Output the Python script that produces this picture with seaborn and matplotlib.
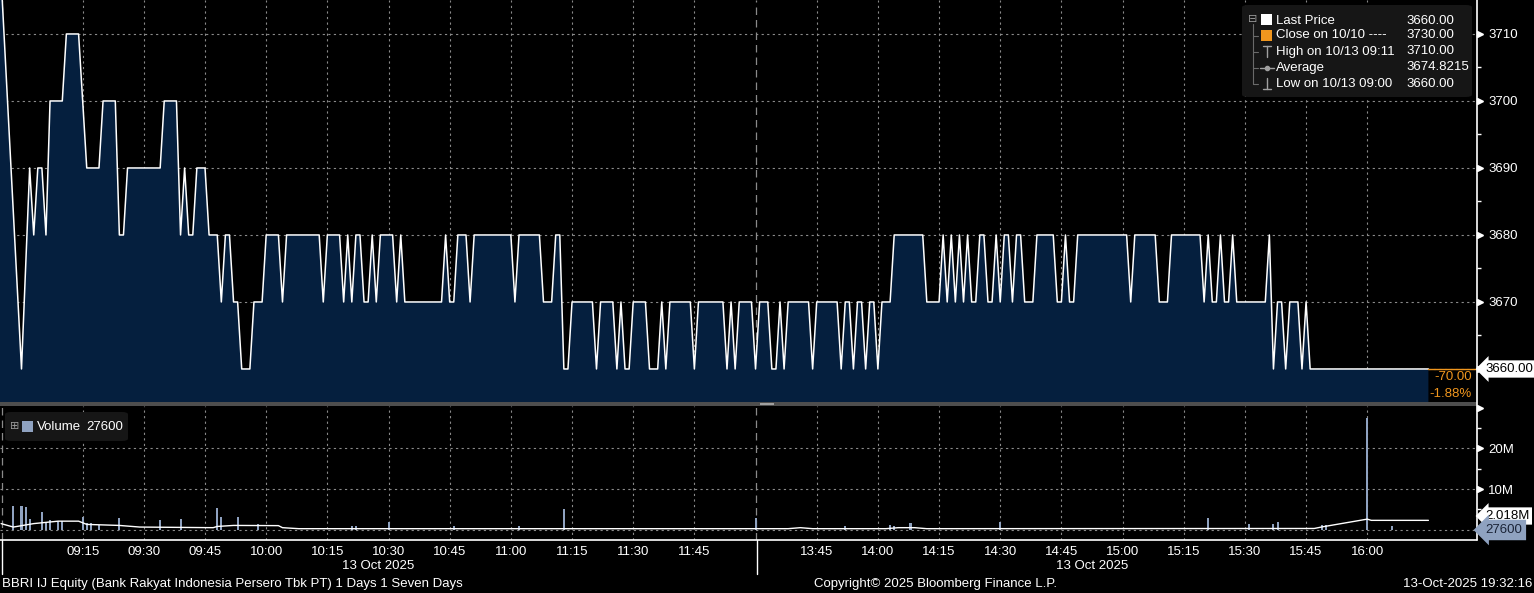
import matplotlib as mpl
import matplotlib.pyplot as plt
import matplotlib.patches as mpatches
import matplotlib.transforms as mtransforms
from matplotlib.lines import Line2D
import pandas as pd
import seaborn as sns

W, H = 1534, 593

# ---- data (BBRI IJ, 13 Oct 2025) ----
PRICE_TIMES = """
08:54 09:00 09:02 09:03 09:04 09:05 09:06 09:07 09:10 09:11 09:14 09:16 09:19 09:20 09:23 09:24 09:25 09:26 09:34
09:35 09:38 09:39 09:40 09:41 09:42 09:43 09:45 09:46 09:48 09:49 09:50 09:51 09:52 09:53 09:54 09:56 09:57 09:59
10:00 10:03 10:04 10:05 10:13 10:14 10:15 10:18 10:19 10:20 10:21 10:22 10:23 10:24 10:25 10:26 10:27 10:28
10:31 10:32 10:33 10:34 10:43 10:44 10:45 10:46 10:47 10:49 10:50 10:51
11:00 11:01 11:02 11:07 11:08 11:10 11:11 11:12 11:13 11:14 11:15 11:20 11:21 11:22 11:25 11:26 11:27 11:28
11:29 11:30 11:33 11:34 11:36 11:37 11:38 11:39 11:44 11:45 11:46 11:52 11:53 11:54 11:55 11:56 11:59
13:30 13:31 13:33 13:34 13:35 13:36 13:37 13:38 13:43 13:44 13:45 13:50 13:51 13:52 13:53 13:54 13:55 13:56
13:57 13:58 13:59
14:00 14:01 14:03 14:04 14:11 14:12 14:15 14:16 14:17 14:18 14:19 14:20 14:21 14:22 14:23 14:24 14:25 14:26
14:27 14:28 14:29 14:30 14:31 14:32 14:33 14:34 14:35 14:36 14:38 14:39 14:43 14:44 14:45 14:46 14:47 14:48 14:49
15:01 15:02 15:03 15:08 15:09 15:11 15:12 15:19 15:20 15:21 15:22 15:23 15:24 15:25 15:26 15:27 15:28 15:35
15:36 15:37 15:38 15:39 15:40 15:41 15:43 15:44 15:45 15:46 16:15
""".split()

PRICE_VALUES = [
    3730, 3660, 3690, 3680, 3690, 3690, 3680, 3700, 3700, 3710, 3710, 3690, 3690, 3700, 3700, 3680, 3680, 3690, 3690,
    3700, 3700, 3680, 3690, 3680, 3680, 3690, 3690, 3680, 3680, 3670, 3680, 3680, 3670, 3670, 3660, 3660, 3670, 3670,
    3680, 3680, 3670, 3680, 3680, 3670, 3680, 3680, 3670, 3680, 3670, 3680, 3680, 3670, 3670, 3680, 3670, 3680,
    3680, 3670, 3680, 3670, 3670, 3680, 3670, 3670, 3680, 3680, 3670, 3680,
    3680, 3670, 3680, 3680, 3670, 3670, 3680, 3680, 3660, 3660, 3670, 3670, 3660, 3670, 3670, 3660, 3670, 3660,
    3660, 3670, 3670, 3660, 3660, 3670, 3660, 3670, 3670, 3660, 3670, 3670, 3660, 3670, 3660, 3670, 3670,
    3660, 3670, 3670, 3660, 3660, 3670, 3660, 3670, 3670, 3660, 3670, 3670, 3660, 3670, 3670, 3660, 3670, 3670,
    3660, 3670, 3670,
    3660, 3670, 3670, 3680, 3680, 3670, 3670, 3680, 3670, 3680, 3670, 3680, 3670, 3680, 3670, 3670, 3680, 3680,
    3670, 3670, 3680, 3670, 3680, 3680, 3670, 3680, 3680, 3670, 3670, 3680, 3680, 3670, 3670, 3680, 3670, 3670, 3680,
    3680, 3670, 3680, 3680, 3670, 3670, 3680, 3680, 3670, 3680, 3670, 3670, 3680, 3670, 3670, 3680, 3670, 3670,
    3680, 3660, 3670, 3670, 3660, 3670, 3670, 3660, 3670, 3660, 3660,
]

VOLUME_TIMES = ["08:58", "09:00", "09:01", "09:02", "09:05", "09:06", "09:07", "09:09", "09:10", "09:15",
                "09:16", "09:17", "09:19", "09:24", "09:34", "09:39", "09:48", "09:49", "09:53", "09:58",
                "10:21", "10:22", "10:30", "10:46", "11:02", "11:13", "13:30", "13:52", "14:03", "14:04",
                "14:08", "14:30", "15:21", "15:31", "15:37", "15:38", "15:49", "15:50", "16:00", "16:06"]
VOLUME_M = [5.8, 5.8, 5.5, 2.6, 4.3, 1.7, 2.4, 2.2, 2.2, 3.2,
            1.6, 1.6, 1.1, 2.9, 2.4, 2.6, 5.4, 3.2, 3.2, 1.4,
            1.0, 1.0, 1.9, 1.0, 1.0, 5.0, 2.9, 0.8, 1.1, 0.8,
            1.6, 1.8, 2.8, 1.4, 1.5, 2.0, 1.2, 1.2, 27.4, 1.0]

VOL_AVG_TIMES = ["08:55", "08:58", "09:03", "09:09", "09:14", "09:16", "09:24", "09:29", "09:47", "09:48",
                 "09:52", "10:03", "10:04", "10:08", "13:38", "13:41", "13:44", "14:02", "14:05", "14:09",
                 "14:12", "15:47", "15:49", "16:00", "16:01", "16:15"]
VOL_AVG_M = [1.5, 0.65, 1.5, 2.1, 2.1, 1.3, 1.05, 0.65, 0.5, 0.8,
             1.05, 1.0, 0.5, 0.25, 0.25, 0.5, 0.25, 0.25, 0.5, 0.5,
             0.25, 0.3, 0.7, 2.6, 2.3, 2.3]

TICK_TIMES = ["09:15", "09:30", "09:45", "10:00", "10:15", "10:30", "10:45", "11:00", "11:15", "11:30",
              "11:45", "13:45", "14:00", "14:15", "14:30", "14:45", "15:00", "15:15", "15:30", "15:45", "16:00"]
PRICE_TICKS = [3660, 3670, 3680, 3690, 3700, 3710]
PRICE_TICK_LABELS = ["", "3670", "3680", "3690", "3700", "3710"]  # 3660 sits under the last-price flag
VOLUME_TICKS = [10, 20, 30]
VOLUME_TICK_LABELS = ["10M", "20M", ""]

LEGEND_LABELS = ["Last Price", "Close on 10/10 ----", "High on 10/13 09:11", "Average", "Low on 10/13 09:00"]
LEGEND_VALUES = ["3660.00", "3730.00", "3710.00", "3674.8215", "3660.00"]
LAST_VOLUME = "27600"
VOL_AVG_LABEL = "2.018M"
CHANGE_TEXT = ["-70.00", "-1.88%"]

NAVY = "#051f3e"
ORANGE = "#f0961e"
VOL_BLUE = "#8fa2c0"
GRID = "#8a8a8a"
FONT = ["Liberation Sans Narrow", "Liberation Sans", "DejaVu Sans"]
FS = 9.5

PX_PER_MIN = 4.078
X0_PX = 21.5
XMIN = -X0_PX / PX_PER_MIN
XMAX = (1477 - X0_PX) / PX_PER_MIN


def trading_minute(t):
    h, m = map(int, t.split(":"))
    mins = (h - 9) * 60 + m
    return mins - 90 if mins >= 270 else mins  # lunch break collapsed


def fx(x):
    return x / W


def fy(y):
    return 1 - y / H


def configure_style():
    sns.set_theme(style="dark", rc={
        "figure.facecolor": "black",
        "axes.facecolor": "black",
        "savefig.facecolor": "black",
        "text.color": "white",
        "xtick.color": "white",
        "ytick.color": "white",
    })
    plt.rcParams["font.family"] = FONT


def ftext(x, y, s, **kw):
    kw.setdefault("color", "white")
    kw.setdefault("fontsize", FS)
    kw.setdefault("va", "center")
    return fig.text(fx(x), fy(y), s, **kw)


def fline(xs, ys, **kw):
    fig.add_artist(Line2D([fx(v) for v in xs], [fy(v) for v in ys], **kw))


def frect(x0, y0, x1, y1, **kw):
    fig.add_artist(mpatches.Rectangle((fx(x0), fy(y1)), fx(x1) - fx(x0), fy(y0) - fy(y1),
                                      transform=fig.transFigure, **kw))


def style_axes(ax):
    for side in ["top", "left", "bottom", "right"]:
        ax.spines[side].set_visible(False)
    ax.grid(False)
    ax.set_xlabel("")
    ax.set_ylabel("")
    ax.set_xlim(XMIN, XMAX)


def grid_lines(ax, yvals):
    dash = dict(color=GRID, lw=0.8, ls=(0, (2, 3)), zorder=0.5)
    for t in TICK_TIMES:
        ax.axvline(trading_minute(t), **dash)
    for v in yvals:
        ax.axhline(v, **dash)
    brk = dict(color=GRID, lw=0.9, ls=(0, (6, 4)), zorder=0.5)
    ax.axvline(trading_minute("13:30"), **brk)
    ax.axvline(XMIN + 1.7 / PX_PER_MIN, **brk)


def arrow_ticks(ax, vals):
    trans = mtransforms.offset_copy(ax.get_yaxis_transform(), fig=fig, x=2.5, units="dots")
    ax.plot([1] * len(vals), vals, ls="none", marker=">", ms=4.5, color="white",
            transform=trans, clip_on=False, zorder=5)


configure_style()
fig = plt.figure(figsize=(W / 100, H / 100), dpi=100)

ax_p = fig.add_axes([0, fy(402), fx(1477), fy(0) - fy(402)])
ax_v = fig.add_axes([0, fy(540), fx(1477), fy(406) - fy(540)])

# ---- price panel ----
price = pd.DataFrame({"m": [trading_minute(t) for t in PRICE_TIMES], "price": PRICE_VALUES})
ax_p.fill_between(price["m"], price["price"], 3600, color=NAVY, lw=0, zorder=1)
grid_lines(ax_p, PRICE_TICKS)
sns.lineplot(data=price, x="m", y="price", ax=ax_p, color="white", lw=1.1,
             estimator=None, sort=False, zorder=3)
last_m, last_p = price["m"].iloc[-1], price["price"].iloc[-1]
ax_p.plot([last_m, XMAX], [last_p, last_p], color=ORANGE, lw=1.0, zorder=3)
style_axes(ax_p)
ax_p.set_ylim(3655.07, 3715.07)
ax_p.yaxis.tick_right()
ax_p.set_yticks(PRICE_TICKS)
ax_p.set_yticklabels(PRICE_TICK_LABELS)
ax_p.set_yticks([v + 5 for v in PRICE_TICKS[:-1]], minor=True)
ax_p.tick_params(axis="y", which="major", length=0, pad=8, labelsize=FS, labelcolor="white")
ax_p.tick_params(axis="y", which="minor", length=3, width=1, color="white", right=True)
ax_p.tick_params(axis="x", bottom=False, labelbottom=False)
arrow_ticks(ax_p, PRICE_TICKS)

# ---- volume panel ----
vol = pd.DataFrame({"m": [trading_minute(t) for t in VOLUME_TIMES], "vol": VOLUME_M})
vavg = pd.DataFrame({"m": [trading_minute(t) for t in VOL_AVG_TIMES], "avg": VOL_AVG_M})
grid_lines(ax_v, [0, 10, 20])
ax_v.bar(vol["m"], vol["vol"], width=0.5, color=VOL_BLUE, lw=0, zorder=2)
sns.lineplot(data=vavg, x="m", y="avg", ax=ax_v, color="white", lw=1.0,
             estimator=None, sort=False, zorder=3)
style_axes(ax_v)
ax_v.set_ylim(-2.53, 30.4)
ax_v.yaxis.tick_right()
ax_v.set_yticks(VOLUME_TICKS)
ax_v.set_yticklabels(VOLUME_TICK_LABELS)
ax_v.set_yticks([5, 15, 25], minor=True)
ax_v.tick_params(axis="y", which="major", length=0, pad=8, labelsize=FS, labelcolor="white")
ax_v.tick_params(axis="y", which="minor", length=3, width=1, color="white", right=True)
arrow_ticks(ax_v, VOLUME_TICKS)
ax_v.set_xticks([trading_minute(t) for t in TICK_TIMES])
ax_v.set_xticklabels(TICK_TIMES)
ax_v.tick_params(axis="x", length=0, pad=4, labelsize=FS, labelcolor="white")

# frame: right axis line, bottom axis line, panel separator
frect(0, 402, 1477, 405.5, color="#4e4e4e", lw=0)
frect(760, 403, 774, 404.5, color="#a0a0a0", lw=0)
fline([1477, 1477], [0, 540], color="white", lw=1.2)
fline([0, 1477], [540, 540], color="white", lw=1.2)
fline([2, 2], [540, 574], color="white", lw=1.0)
fline([757, 757], [540, 574], color="white", lw=1.0)

# right-hand value flags
ftext(1485, 369, f"{last_p:.2f}", color="black",
      bbox=dict(boxstyle="larrow,pad=0.2", fc="white", ec="none"))
ftext(1472, 377, CHANGE_TEXT[0], color=ORANGE, ha="right")
ftext(1472, 394, CHANGE_TEXT[1], color=ORANGE, ha="right")
ftext(1485, 516, VOL_AVG_LABEL, color="black",
      bbox=dict(boxstyle="larrow,pad=0.2", fc="white", ec="none"))
ftext(1485, 530, LAST_VOLUME, color="#1a2336",
      bbox=dict(boxstyle="larrow,pad=0.32", fc=VOL_BLUE, ec="none"))

# price legend
fig.add_artist(mpatches.FancyBboxPatch((fx(1242), fy(97)), fx(1472) - fx(1242), fy(5) - fy(97),
                                       boxstyle="round,pad=0,rounding_size=0.004",
                                       transform=fig.transFigure, fc="#161616", ec="none"))
ftext(1253, 19, "⊟", color="#9a9a9a", fontsize=8, ha="center", family=["DejaVu Sans"])
fline([1253, 1253], [24, 84], color="#6a6a6a", lw=0.8)
for yy in [35.5, 51.5, 67.5, 84]:
    fline([1253, 1258], [yy, yy], color="#6a6a6a", lw=0.8)
frect(1261, 14, 1272, 25, color="white", lw=0)
frect(1261, 30, 1272, 41, color=ORANGE, lw=0)
fline([1267, 1267], [46, 57], color="#a0a0a0", lw=1)
fline([1263, 1271], [46, 46], color="#a0a0a0", lw=1)
fline([1260, 1274], [67.5, 67.5], color="#a0a0a0", lw=1)
fig.add_artist(Line2D([fx(1267)], [fy(67.5)], marker="o", ms=3, color="#a0a0a0"))
fline([1267, 1267], [78, 89], color="#a0a0a0", lw=1)
fline([1263, 1271], [89, 89], color="#a0a0a0", lw=1)
for i, (lab, val) in enumerate(zip(LEGEND_LABELS, LEGEND_VALUES)):
    yy = [20.5, 35.5, 51.5, 67.5, 84][i]
    ftext(1276, yy, lab)
    ftext(1406, yy, val)

# volume legend
fig.add_artist(mpatches.FancyBboxPatch((fx(5), fy(441)), fx(128) - fx(5), fy(412) - fy(441),
                                       boxstyle="round,pad=0,rounding_size=0.004",
                                       transform=fig.transFigure, fc="#161616", ec="none"))
ftext(14.5, 426, "⊞", color="#9a9a9a", fontsize=8, ha="center", family=["DejaVu Sans"])
frect(21.5, 421, 32.5, 432, color=VOL_BLUE, lw=0)
ftext(37, 427, "Volume")
ftext(86, 427, LAST_VOLUME)

# date captions and footer
ftext(378, 566, "13 Oct 2025", ha="center")
ftext(1092, 566, "13 Oct 2025", ha="center")
ftext(2, 584, "BBRI IJ Equity (Bank Rakyat Indonesia Persero Tbk PT) 1 Days 1 Seven Days")
ftext(814, 584, "Copyright© 2025 Bloomberg Finance L.P.")
ftext(1532, 584, "13-Oct-2025 19:32:16", ha="right")

assert len(PRICE_TIMES) == len(PRICE_VALUES)
fig.savefig("out.png", dpi=100, facecolor="black")
